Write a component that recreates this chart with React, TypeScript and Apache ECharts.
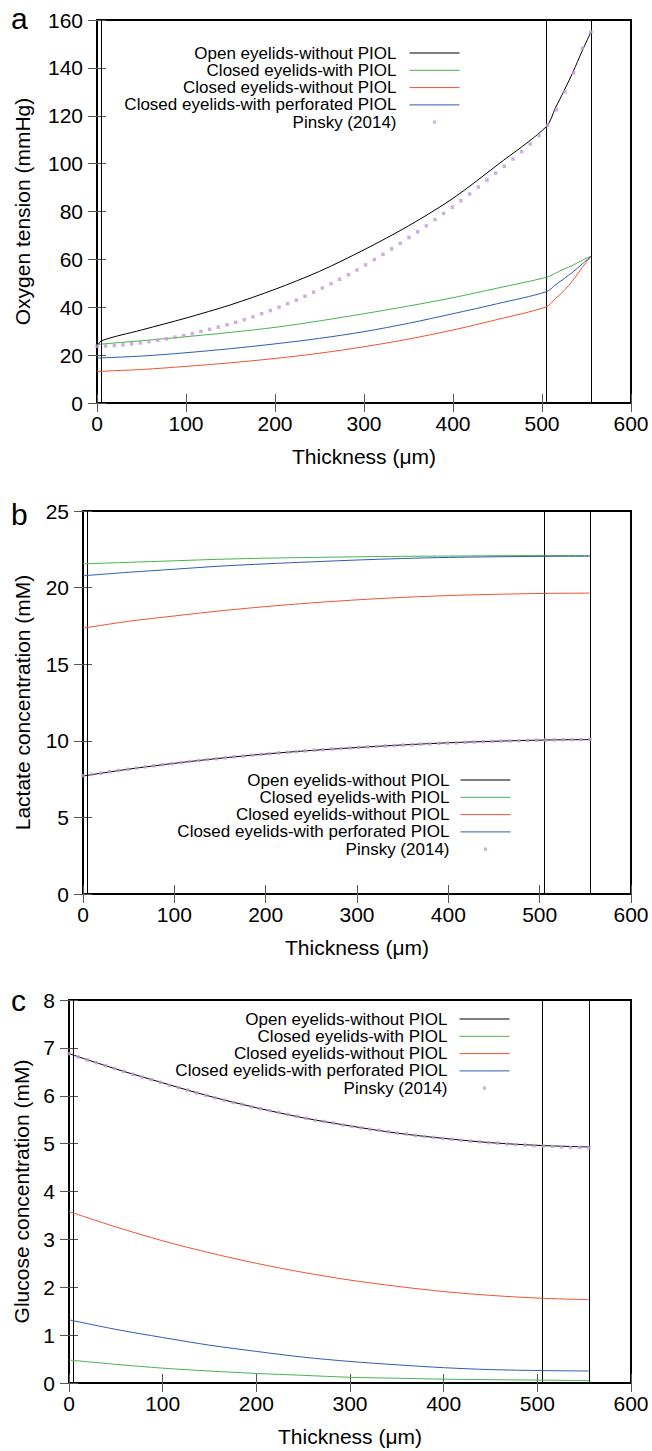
import React, { useEffect, useRef } from "react";
import * as echarts from "echarts";

// ---------- data ----------
const seriesNames = [
  "Open eyelids-without PIOL",
  "Closed eyelids-with PIOL",
  "Closed eyelids-without PIOL",
  "Closed eyelids-with perforated PIOL",
  "Pinsky (2014)",
];
const lineColors = ["#000000", "#45b54b", "#f0532f", "#2d5bb6"];
const pinskyColor = "#c49bd6";
const layerBoundaries = [5, 505, 555];

// Panel a: oxygen tension (mmHg)
const depthO2 = [0, 5, 50, 100, 150, 200, 250, 300, 350, 400, 450, 505, 515, 525, 535, 545, 555];
const o2Open = [23.5, 26, 30.5, 35.5, 41, 47.5, 55, 64, 74, 85.5, 99.5, 115.5, 123.2, 130.6, 138.4, 147, 155];
const o2ClosedWith = [24.3, 24.6, 26, 27.7, 29.5, 31.6, 34.3, 37.3, 40.5, 44, 48, 52.5, 54.2, 56, 57.6, 59.6, 61.3];
const o2ClosedWithout = [13.2, 13.25, 14, 15.3, 16.8, 18.6, 20.8, 23.5, 26.7, 30.5, 34.9, 40.2, 43.6, 47, 51.4, 56.5, 61.3];
const o2ClosedPerforated = [18.8, 18.85, 19.6, 21, 22.7, 24.7, 27, 29.8, 33.3, 37.3, 41.5, 46.5, 49.3, 52, 54.8, 58, 61.3];

// Panels b and c share depths
const depthBC = [0, 50, 100, 150, 200, 250, 300, 350, 400, 450, 505, 555];
// Panel b: lactate (mM)
const lacOpen = [7.7, 8.15, 8.53, 8.86, 9.14, 9.37, 9.56, 9.73, 9.87, 9.97, 10.05, 10.08];
const lacClosedWith = [21.55, 21.65, 21.75, 21.85, 21.92, 21.97, 22.01, 22.04, 22.06, 22.08, 22.09, 22.1];
const lacClosedWithout = [17.35, 17.8, 18.15, 18.48, 18.76, 19.0, 19.2, 19.36, 19.48, 19.56, 19.62, 19.64];
const lacClosedPerforated = [20.77, 21.0, 21.2, 21.4, 21.55, 21.68, 21.8, 21.9, 21.97, 22.01, 22.04, 22.05];
// Panel c: glucose (mM)
const gluOpen = [6.88, 6.56, 6.27, 5.99, 5.75, 5.54, 5.37, 5.22, 5.11, 5.02, 4.96, 4.93];
const gluClosedWith = [0.48, 0.39, 0.31, 0.25, 0.2, 0.16, 0.12, 0.1, 0.08, 0.07, 0.06, 0.05];
const gluClosedWithout = [3.58, 3.26, 2.97, 2.72, 2.5, 2.31, 2.15, 2.02, 1.91, 1.83, 1.77, 1.74];
const gluClosedPerforated = [1.32, 1.12, 0.95, 0.79, 0.66, 0.54, 0.45, 0.38, 0.32, 0.28, 0.26, 0.25];

// Pinsky (2014) reference points
const pinskyDepth = [
  0, 9.7, 19.5, 29.2, 38.9, 48.7, 58.4, 68.2, 77.9, 87.6,
  97.4, 107.1, 116.8, 126.6, 136.3, 146.1, 155.8, 165.5, 175.3, 185,
  194.7, 204.5, 214.2, 224, 233.7, 243.4, 253.2, 262.9, 272.6, 282.4,
  292.1, 301.8, 311.6, 321.3, 331.1, 340.8, 350.5, 360.3, 370, 379.7,
  389.5, 399.2, 408.9, 418.7, 428.4, 438.2, 447.9, 457.6, 467.4, 477.1,
  486.8, 496.6, 506.3, 516.1, 525.8, 535.5, 545.3, 555,
];
const pinskyO2 = [
  23.7, 23.8, 24.0, 24.3, 24.7, 25.1, 25.6, 26.2, 26.8, 27.5,
  28.2, 29.0, 29.9, 30.8, 31.7, 32.7, 33.7, 34.8, 36.0, 37.3,
  38.6, 40.0, 41.5, 43.0, 44.6, 46.3, 48.0, 49.8, 51.7, 53.6,
  55.6, 57.7, 59.9, 62.1, 64.4, 66.7, 69.1, 71.5, 74.0, 76.6,
  79.2, 81.8, 84.5, 87.3, 90.2, 93.1, 96.0, 98.9, 101.9, 105.0,
  108.2, 111.7, 116.0, 122.5, 130.0, 138.0, 148.2, 155,
];
const pinskyLactate = [
  7.72, 7.8, 7.89, 7.98, 8.06, 8.14, 8.22, 8.3, 8.37, 8.44,
  8.51, 8.58, 8.65, 8.71, 8.77, 8.83, 8.89, 8.95, 9.0, 9.06,
  9.11, 9.16, 9.21, 9.25, 9.3, 9.34, 9.38, 9.42, 9.46, 9.5,
  9.53, 9.57, 9.6, 9.63, 9.66, 9.69, 9.72, 9.75, 9.78, 9.8,
  9.83, 9.85, 9.87, 9.9, 9.92, 9.94, 9.96, 9.98, 9.99, 10.01,
  10.02, 10.04, 10.05, 10.06, 10.07, 10.07, 10.08, 10.08,
];
const pinskyGlucose = [
  6.88, 6.81, 6.75, 6.69, 6.63, 6.57, 6.51, 6.45, 6.39, 6.34,
  6.28, 6.22, 6.17, 6.12, 6.06, 6.01, 5.96, 5.91, 5.86, 5.82,
  5.77, 5.73, 5.69, 5.65, 5.61, 5.57, 5.53, 5.49, 5.46, 5.43,
  5.39, 5.36, 5.33, 5.3, 5.28, 5.25, 5.22, 5.2, 5.17, 5.15,
  5.13, 5.11, 5.09, 5.07, 5.05, 5.04, 5.02, 5.01, 4.99, 4.98,
  4.97, 4.96, 4.95, 4.94, 4.93, 4.92, 4.92, 4.91,
];

const xAxisName = "Thickness (\u03bcm)";
const panelLetters = ["a", "b", "c"];
const yAxisNames = ["Oxygen tension (mmHg)", "Lactate concentration (mM)", "Glucose concentration (mM)"];
const yMaxes = [160, 25, 8];
const yIntervals = [20, 5, 1];

const panelData = [
  { xs: depthO2, lines: [o2Open, o2ClosedWith, o2ClosedWithout, o2ClosedPerforated], pinsky: pinskyO2 },
  { xs: depthBC, lines: [lacOpen, lacClosedWith, lacClosedWithout, lacClosedPerforated], pinsky: pinskyLactate },
  { xs: depthBC, lines: [gluOpen, gluClosedWith, gluClosedWithout, gluClosedPerforated], pinsky: pinskyGlucose },
];

// ---------- layout ----------
const FONT = "'Liberation Sans', Arial, Helvetica, sans-serif";
const RIGHT_EDGE = 631;
const layout = [
  { top: 20, bottom: 403, left: 97, yNameGap: 64, letterY: 18, legendTop: 44.5, legendRight: 192, textPad: 8 },
  { top: 511, bottom: 894, left: 83, yNameGap: 50, letterY: 514, legendTop: 771.5, legendRight: 141, textPad: 6 },
  { top: 1000, bottom: 1383, left: 69, yNameGap: 36, letterY: 1000, legendTop: 1010.5, legendRight: 142, textPad: 7 },
];
// small square centred in a 50x4 box (tiny corner specks fix the box size)
const PINSKY_ICON = "path://M0,0h0.02v0.02h-0.02z M23.4,0.4h3.2v3.2h-3.2z M49.98,3.98h0.02v0.02h-0.02z";

function buildOption() {
  const grid: any[] = [];
  const xAxis: any[] = [];
  const yAxis: any[] = [];
  const series: any[] = [];
  const legend: any[] = [];
  const graphic: any[] = [];

  const tick = { show: true, inside: true, length: 9, lineStyle: { color: "#555", width: 1 } };

  layout.forEach((L, p) => {
    grid.push({
      left: L.left,
      top: L.top,
      width: RIGHT_EDGE - L.left,
      height: L.bottom - L.top,
      show: true,
      borderColor: "#000",
      borderWidth: 2,
      backgroundColor: "transparent",
      containLabel: false,
    });
    xAxis.push({
      type: "value",
      gridIndex: p,
      position: "bottom",
      min: 0,
      max: 600,
      interval: 100,
      axisLine: { show: false },
      axisTick: tick,
      splitLine: { show: false },
      axisLabel: { show: true, fontSize: 21, fontFamily: FONT, color: "#000", margin: 10 },
      name: xAxisName,
      nameLocation: "middle",
      nameGap: 43,
      nameTextStyle: { fontSize: 21, fontFamily: FONT, color: "#000" },
    });
    xAxis.push({
      type: "value",
      gridIndex: p,
      position: "top",
      min: 0,
      max: 600,
      interval: 100,
      axisLine: { show: false },
      axisTick: tick,
      splitLine: { show: false },
      axisLabel: { show: false },
    });
    yAxis.push({
      type: "value",
      gridIndex: p,
      position: "left",
      min: 0,
      max: yMaxes[p],
      interval: yIntervals[p],
      axisLine: { show: false },
      axisTick: tick,
      splitLine: { show: false },
      axisLabel: { show: true, fontSize: 21, fontFamily: FONT, color: "#000", margin: 14 },
      name: yAxisNames[p],
      nameLocation: "middle",
      nameRotate: 90,
      nameGap: L.yNameGap,
      nameTextStyle: { fontSize: 21, fontFamily: FONT, color: "#000" },
    });
    yAxis.push({
      type: "value",
      gridIndex: p,
      position: "right",
      min: 0,
      max: yMaxes[p],
      interval: yIntervals[p],
      axisLine: { show: false },
      axisTick: tick,
      splitLine: { show: false },
      axisLabel: { show: false },
    });

    const d = panelData[p];
    d.lines.forEach((ys, k) => {
      const s: any = {
        type: "line",
        name: seriesNames[k],
        xAxisIndex: 2 * p,
        yAxisIndex: 2 * p,
        data: d.xs.map((x, i) => [x, ys[i]]),
        symbol: "none",
        showSymbol: false,
        smooth: 0.3,
        lineStyle: { color: lineColors[k], width: 1 },
        itemStyle: { color: lineColors[k] },
        emphasis: { disabled: true },
        silent: true,
        z: 3,
      };
      if (k === 0) {
        s.markLine = {
          silent: true,
          symbol: ["none", "none"],
          label: { show: false },
          emphasis: { disabled: true },
          lineStyle: { color: "#000", width: 1, type: "solid" },
          data: layerBoundaries.map((x) => ({ xAxis: x })),
          z: 2,
        };
      }
      series.push(s);
    });
    series.push({
      type: "scatter",
      name: seriesNames[4],
      xAxisIndex: 2 * p,
      yAxisIndex: 2 * p,
      data: pinskyDepth.map((x, i) => [x, d.pinsky[i]]),
      symbol: "rect",
      symbolSize: 3.5,
      itemStyle: { color: pinskyColor },
      emphasis: { disabled: true },
      silent: true,
      z: 4,
    });

    legend.push({
      data: seriesNames.map((n, k) =>
        k < 4
          ? { name: n, itemStyle: { opacity: 0 }, lineStyle: { width: 1, color: lineColors[k] } }
          : { name: n, icon: PINSKY_ICON, itemStyle: { color: pinskyColor, borderWidth: 0 } }
      ),
      orient: "vertical",
      right: L.legendRight,
      top: L.legendTop,
      align: "right",
      itemWidth: 50,
      itemHeight: 4,
      itemGap: 0.3,
      padding: 0,
      selectedMode: false,
      textStyle: {
        fontFamily: FONT,
        fontSize: 17,
        lineHeight: 17,
        color: "#000",
        padding: [0, L.textPad, 0, 0],
      },
    });

    graphic.push({
      type: "text",
      x: 11,
      y: L.letterY,
      style: {
        text: panelLetters[p],
        fontSize: 30,
        fontFamily: FONT,
        fill: "#000",
        verticalAlign: "middle",
      },
    });
  });

  return {
    animation: false,
    backgroundColor: "#fff",
    grid,
    xAxis,
    yAxis,
    series,
    legend,
    graphic,
  };
}

export default function App() {
  const ref = useRef<HTMLDivElement>(null);
  useEffect(() => {
    if (!ref.current) return;
    const chart = echarts.init(ref.current, undefined, { renderer: "svg" });
    chart.setOption(buildOption() as any);
    return () => chart.dispose();
  }, []);
  return (
    <div
      ref={ref}
      style={{ position: "absolute", left: 0, top: 0, width: 652, height: 1451, background: "#fff" }}
    />
  );
}
